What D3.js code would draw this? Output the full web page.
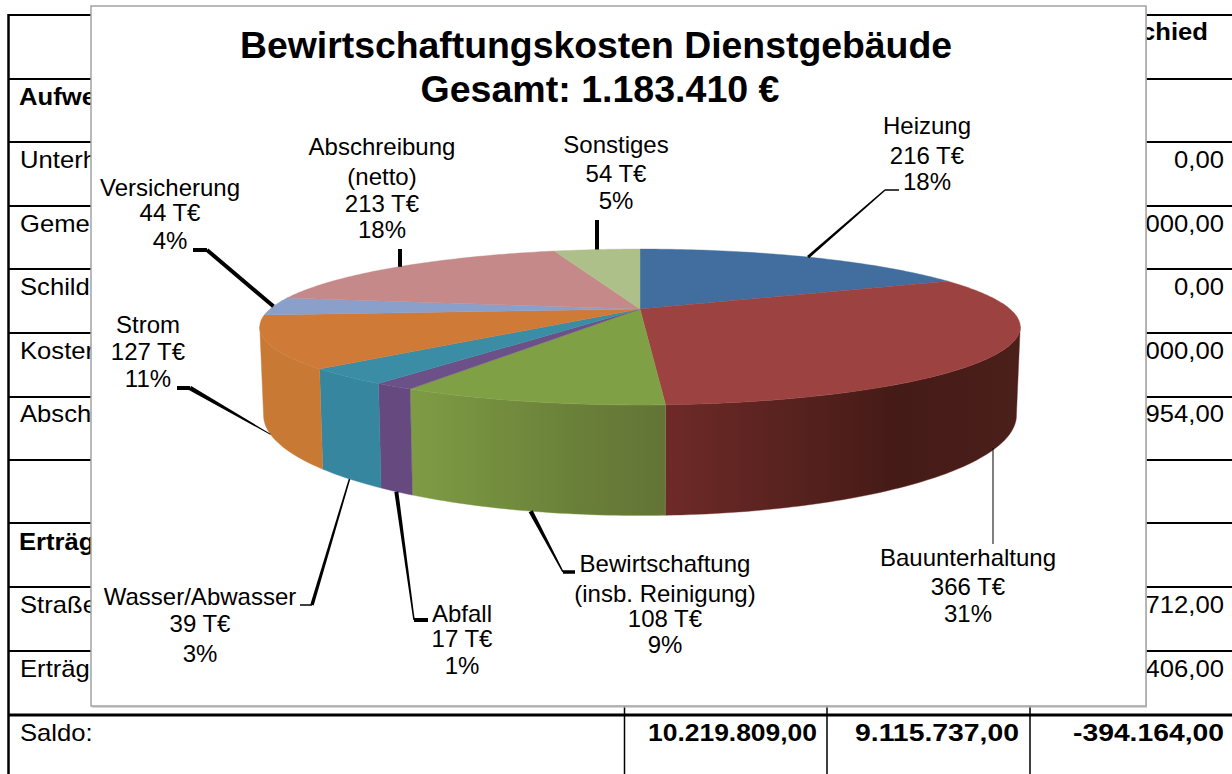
<!DOCTYPE html>
<html><head><meta charset="utf-8">
<script src="https://cdn.jsdelivr.net/npm/d3@7"></script>
<style>html,body{margin:0;padding:0;background:#fff;overflow:hidden}svg{display:block}text{font-family:"Liberation Sans",Arial,sans-serif;fill:#000}</style>
</head><body><svg id="c" width="1232" height="774"></svg>
<script>
// ---- data
const categories = ["Heizung","Bauunterhaltung","Bewirtschaftung (insb. Reinigung)","Abfall","Wasser/Abwasser","Strom","Versicherung","Abschreibung (netto)","Sonstiges"];
const values = [216,366,108,17,39,127,44,213,54];
const percents = ["18%","31%","9%","1%","3%","11%","4%","18%","5%"];
const labelLines = [["Heizung"],["Bauunterhaltung"],["Bewirtschaftung","(insb. Reinigung)"],["Abfall"],["Wasser/Abwasser"],["Strom"],["Versicherung"],["Abschreibung","(netto)"],["Sonstiges"]];
const titleLines = ["Bewirtschaftungskosten Dienstgebäude","Gesamt: 1.183.410 €"];
const rowLabels = ["","Aufwe","Unterh","Geme","Schild","Koster","Absch","","Erträg","Straße","Erträg","Saldo:"];
const rowRight = ["chied","","0,00","000,00","0,00","000,00","954,00","","","712,00","406,00",""];
const saldoCells = ["10.219.809,00","9.115.737,00","-394.164,00"];

// ---- styles / layout
const topColors = ["#426e9f","#9c4341","#80a045","#6c5088","#3a8da5","#cf7a36","#8a9fc9","#c48988","#aec08a"];
const sideStops = [["#2f4f73","#2f4f73"],["#6e2a28","#451b17","#4b1f1a"],["#7e9c44","#6a8039","#637436"],["#65497f","#65497f"],["#36869f","#36869f"],["#c87a35","#c87a35"],["#6a7c9e","#6a7c9e"],["#9a6b6a","#9a6b6a"],["#8a9a6d","#8a9a6d"]];
const labelX = [927,968,665,462,200,148,170,382,616];
const labelY = [[134,164,190],[566,595,622],[572,602,627,653],[622,647,674],[605,632,662],[333,360,387],[196,221,249],[155,185,212,238],[153,182,209]];
const rowBase = [40,105,168,232,295,359,422,0,550,613,677,741];
const tableStretch = 1.115;
const saldoRight = [817,1019,1224];
const saldoWidth = [169,164,151];
// leader: attached to "top" or "bottom" rim; elbow, end, widths at rim / elbow / tail
const leaders = [
 {rim:"top",elbow:[885,190],end:[899,190],w:[3,1.5,1.5]},
 {rim:"bottom",elbow:[993,544],end:null,w:[1,1,1]},
 {rim:"bottom",elbow:[563,572],end:[575,572],w:[4.5,1.5,3.5]},
 {rim:"bottom",elbow:[414,620],end:[428,620],w:[4,1.5,4]},
 {rim:"bottom",elbow:[312,605],end:[300,605],w:[1.5,3.5,1.5]},
 {rim:"bottom",elbow:[190,388],end:[177,388],w:[1,4.5,4]},
 {rim:"top",elbow:[207,250],end:[193,250],w:[4,4,4]},
 {rim:"top",elbow:[400,249],end:null,w:[4,4,4]},
 {rim:"top",elbow:[597,220],end:null,w:[4,4,4]}
];
const rowLines = [15,79,142,206,269,333,397,460,523,587,651,715];
const columnLines = [624.5,827,1030];

const svg = d3.select("#c");
const defs = svg.append("defs");

// ---- background table
const tbl = svg.append("g");
rowLines.forEach((y,i)=>tbl.append("line").attr("x1",8).attr("x2",1232).attr("y1",y).attr("y2",y)
  .attr("stroke","#000").attr("stroke-width",i===11?3:2));
tbl.append("line").attr("x1",8.5).attr("x2",8.5).attr("y1",14).attr("y2",774).attr("stroke","#000").attr("stroke-width",2.5);
columnLines.forEach(x=>tbl.append("line").attr("x1",x).attr("x2",x).attr("y1",15).attr("y2",774).attr("stroke","#000").attr("stroke-width",1.5));
const tableText=(t,x,y,anchor,bold)=>tbl.append("text")
  .attr("transform",`translate(${x},${y}) scale(${tableStretch},1)`)
  .attr("font-size",23).attr("text-anchor",anchor).attr("font-weight",bold?"bold":"normal").text(t);
rowLabels.forEach((t,i)=>{ if(t) tableText(t,i===1||i===8?19:20,rowBase[i],"start",i===1||i===8); });
rowRight.forEach((t,i)=>{ if(t) tableText(t,i===0?1208:1224,rowBase[i],"end",i===0); });
saldoCells.forEach((t,i)=>tableText(t,saldoRight[i],rowBase[11],"end",true)
  .attr("textLength",saldoWidth[i]/tableStretch).attr("lengthAdjust","spacingAndGlyphs"));

// ---- chart panel
svg.append("rect").attr("x",92).attr("y",7).attr("width",1055).attr("height",701).attr("fill","#bdbdbd").attr("opacity",0.6);
svg.append("rect").attr("x",91).attr("y",6).attr("width",1055).attr("height",700).attr("fill","#fff").attr("stroke","#a3a3a3").attr("stroke-width",1.5);

// ---- pie geometry (perspective projection of a disc)
const cx=640, cyTop=309, rx=370, ryTop=73.8, pers=0.2308, cyBot=392, ryBot=95, shrink=0.99;
const sx = (a)=>1/(1+pers*Math.cos(a));
const topPt = a=>[cx+rx*Math.sin(a)*sx(a), cyTop-ryTop*Math.cos(a)*sx(a)];
const botPt = a=>[cx+shrink*rx*Math.sin(a)*sx(a), cyBot-ryBot*Math.cos(a)*sx(a)];
const arcs = d3.pie().sort(null)(values);
const step = Math.PI/180;
const samples=(a0,a1)=>{const n=Math.max(2,Math.ceil((a1-a0)/step));return d3.range(n+1).map(i=>a0+(a1-a0)*i/n);};
const line = d3.line();
const vis0=103*step, vis1=257*step;

const pie = svg.append("g");
// sides
arcs.forEach((d,i)=>{
  const a0=Math.max(d.startAngle,vis0), a1=Math.min(d.endAngle,vis1);
  if(a1<=a0) return;
  const stops=sideStops[i];
  const g=defs.append("linearGradient").attr("id","side"+i).attr("x1",0).attr("x2",1).attr("y1",0).attr("y2",0);
  stops.forEach((c,k)=>g.append("stop").attr("offset",stops.length===3?[0,0.65,1][k]:k).attr("stop-color",c));
  const s=samples(a0,a1);
  pie.append("path").attr("d",line(s.map(topPt).concat(s.slice().reverse().map(botPt)))+"Z")
    .attr("fill",`url(#side${i})`).attr("stroke",stops[0]).attr("stroke-width",0.4);
});
// top faces
arcs.forEach((d,i)=>{
  pie.append("path").attr("d",line([[cx,cyTop]].concat(samples(d.startAngle,d.endAngle).map(topPt)))+"Z")
    .attr("fill",topColors[i]).attr("stroke",topColors[i]).attr("stroke-width",0.4);
});

// ---- leaders
const leadG = svg.append("g");
function taper(p,q,w0,w1){
  const dx=q[0]-p[0],dy=q[1]-p[1],l=Math.hypot(dx,dy),nx=-dy/l,ny=dx/l;
  return line([[p[0]+nx*w0/2,p[1]+ny*w0/2],[q[0]+nx*w1/2,q[1]+ny*w1/2],[q[0]-nx*w1/2,q[1]-ny*w1/2],[p[0]-nx*w0/2,p[1]-ny*w0/2]])+"Z";
}
arcs.forEach((d,i)=>{
  const L=leaders[i], mid=(d.startAngle+d.endAngle)/2;
  const p=(L.rim==="top"?topPt:botPt)(mid);
  let elbow=L.elbow;
  if(!L.end) p[0]=elbow[0];
  leadG.append("path").attr("d",taper(p,elbow,L.w[0],L.w[1])).attr("fill","#000");
  if(L.end) leadG.append("path").attr("d",taper(elbow,L.end,L.w[2],L.w[2])).attr("fill","#000");
});

// ---- labels
const labG = svg.append("g");
categories.forEach((c,i)=>{
  const lines=labelLines[i].concat([values[i]+" T€",percents[i]]);
  lines.forEach((t,k)=>labG.append("text").attr("x",labelX[i]).attr("y",labelY[i][k]).attr("text-anchor","middle").attr("font-size",24).text(t));
});

// ---- title
titleLines.forEach((t,i)=>svg.append("text").attr("x",[596,600][i]).attr("y",[58,102][i]).attr("text-anchor","middle")
  .attr("font-size",36).attr("font-weight","bold").attr("textLength",[712,359][i]).attr("lengthAdjust","spacingAndGlyphs").text(t));
</script></body></html>
